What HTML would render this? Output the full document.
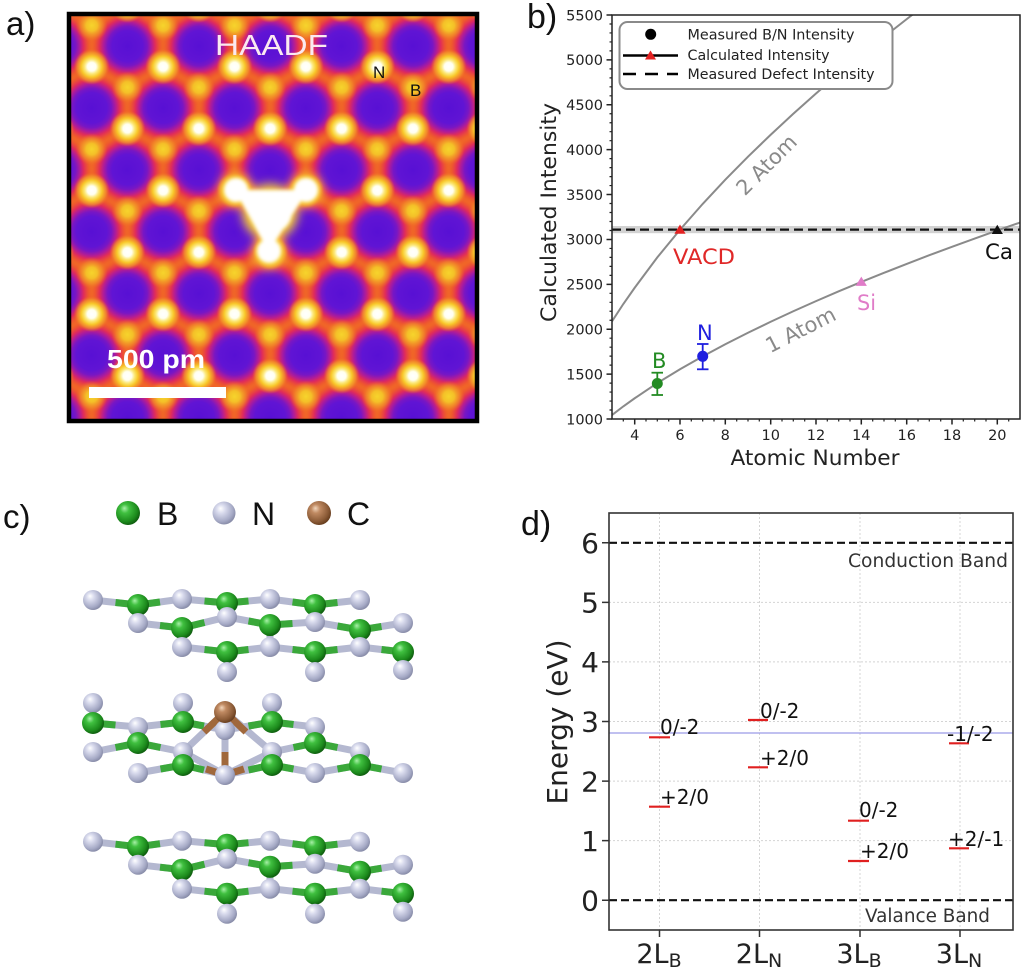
<!DOCTYPE html>
<html><head><meta charset="utf-8"><style>
html,body{margin:0;padding:0;background:#fff;}
svg{display:block;}
.dj{font-family:"DejaVu Sans","Liberation Sans",sans-serif;}
.lb{font-family:"Liberation Sans","DejaVu Sans",sans-serif;}
</style></head><body>
<svg width="1024" height="972" viewBox="0 0 1024 972" xmlns="http://www.w3.org/2000/svg" xmlns:xlink="http://www.w3.org/1999/xlink">
<defs>
<radialGradient id="gh">
 <stop offset="0" stop-color="#5810d4"/>
 <stop offset="0.4" stop-color="#6014d4"/>
 <stop offset="0.52" stop-color="#7816c4"/>
 <stop offset="0.63" stop-color="#b01c98"/>
 <stop offset="0.73" stop-color="#e02c5a"/>
 <stop offset="0.86" stop-color="#ee5230" stop-opacity="0.7"/>
 <stop offset="1" stop-color="#f06a26" stop-opacity="0"/>
</radialGradient>
<radialGradient id="gbd">
 <stop offset="0" stop-color="#f6d42c"/>
 <stop offset="0.35" stop-color="#f4c028"/>
 <stop offset="0.7" stop-color="#f29428" stop-opacity="0.6"/>
 <stop offset="1" stop-color="#f06a26" stop-opacity="0"/>
</radialGradient>
<radialGradient id="gab">
 <stop offset="0" stop-color="#ffffff"/>
 <stop offset="0.24" stop-color="#fffff0"/>
 <stop offset="0.4" stop-color="#fce878"/>
 <stop offset="0.58" stop-color="#f8c82a"/>
 <stop offset="0.8" stop-color="#f39a2a" stop-opacity="0.7"/>
 <stop offset="1" stop-color="#f06a26" stop-opacity="0"/>
</radialGradient>
<g id="H"><circle cx="35.7" cy="61.83" r="38" fill="url(#gh)"/><circle cx="0" cy="0" r="38" fill="url(#gh)"/></g>
<g id="BD"><circle cx="0" cy="41.2" r="16" fill="url(#gbd)"/><circle cx="35.7" cy="103.05" r="16" fill="url(#gbd)"/></g>
<g id="AB"><circle cx="35.7" cy="20.6" r="18" fill="url(#gab)"/><circle cx="0" cy="82.45" r="18" fill="url(#gab)"/></g>
<pattern id="lat" patternUnits="userSpaceOnUse" x="56" y="46.1" width="71.4" height="123.66">
 <rect x="0" y="0" width="71.4" height="123.66" fill="#f06a26"/>
 <use xlink:href="#H" x="-71.4" y="-123.66"/><use xlink:href="#H" x="0" y="-123.66"/><use xlink:href="#H" x="71.4" y="-123.66"/>
 <use xlink:href="#H" x="-71.4" y="0"/><use xlink:href="#H" x="0" y="0"/><use xlink:href="#H" x="71.4" y="0"/>
 <use xlink:href="#H" x="-71.4" y="123.66"/><use xlink:href="#H" x="0" y="123.66"/><use xlink:href="#H" x="71.4" y="123.66"/>
 <use xlink:href="#BD" x="-71.4" y="-123.66"/><use xlink:href="#BD" x="0" y="-123.66"/><use xlink:href="#BD" x="71.4" y="-123.66"/>
 <use xlink:href="#BD" x="-71.4" y="0"/><use xlink:href="#BD" x="0" y="0"/><use xlink:href="#BD" x="71.4" y="0"/>
 <use xlink:href="#BD" x="-71.4" y="123.66"/><use xlink:href="#BD" x="0" y="123.66"/><use xlink:href="#BD" x="71.4" y="123.66"/>
 <use xlink:href="#AB" x="-71.4" y="-123.66"/><use xlink:href="#AB" x="0" y="-123.66"/><use xlink:href="#AB" x="71.4" y="-123.66"/>
 <use xlink:href="#AB" x="-71.4" y="0"/><use xlink:href="#AB" x="0" y="0"/><use xlink:href="#AB" x="71.4" y="0"/>
 <use xlink:href="#AB" x="-71.4" y="123.66"/><use xlink:href="#AB" x="0" y="123.66"/><use xlink:href="#AB" x="71.4" y="123.66"/>
</pattern>
<filter id="bl4" x="-50%" y="-50%" width="200%" height="200%"><feGaussianBlur stdDeviation="5"/></filter>
<filter id="bl1" x="-50%" y="-50%" width="200%" height="200%"><feGaussianBlur stdDeviation="1.8"/></filter>
<clipPath id="ca"><rect x="67" y="12" width="412" height="411"/></clipPath>
<clipPath id="cb"><rect x="612" y="15" width="408" height="404"/></clipPath>
<radialGradient id="gB" cx="0.4" cy="0.38" r="0.62" fx="0.35" fy="0.3">
 <stop offset="0" stop-color="#a8f0a8"/>
 <stop offset="0.3" stop-color="#40c040"/>
 <stop offset="0.8" stop-color="#1c8a1c"/>
 <stop offset="1" stop-color="#106010"/>
</radialGradient>
<radialGradient id="gN" cx="0.4" cy="0.38" r="0.62" fx="0.35" fy="0.3">
 <stop offset="0" stop-color="#ffffff"/>
 <stop offset="0.3" stop-color="#dadcee"/>
 <stop offset="0.8" stop-color="#a6aac6"/>
 <stop offset="1" stop-color="#8a8eaa"/>
</radialGradient>
<radialGradient id="gC" cx="0.4" cy="0.38" r="0.62" fx="0.35" fy="0.3">
 <stop offset="0" stop-color="#f2d6bc"/>
 <stop offset="0.3" stop-color="#c08a62"/>
 <stop offset="0.8" stop-color="#8a5a36"/>
 <stop offset="1" stop-color="#6a4020"/>
</radialGradient>
<g id="L1">
 <path d="M93 600L138 605L182 599L227 603L270 599L315 605L360 600 M138 623L182 628L227 617L270 625L315 622L360 630L403 623 M182 647L227 652L270 647L315 652L360 647L403 652 M138 605V623 M227 603V617 M315 605V622 M182 628V647 M270 625V647 M360 630V647 M227 652V672 M315 652V672 M403 652V670" stroke="#b4b8d0" stroke-width="7" fill="none"/>
 <path d="M115.5 602.5L138 605L160 602 M138 605V614 M204.5 601L227 603L248.5 601 M227 603V610 M292.5 602L315 605L337.5 602.5 M315 605V613.5 M160 625.5L182 628L204.5 622.5 M182 628V637.5 M248.5 621L270 625L292.5 623.5 M270 625V636 M337.5 626L360 630L381.5 626.5 M360 630V638.5 M204.5 649.5L227 652L248.5 649.5 M227 652V662 M292.5 649.5L315 652L337.5 649.5 M315 652V662 M381.5 649.5L403 652 M403 652V661" stroke="#3aa83a" stroke-width="7" fill="none"/>
 <g fill="url(#gN)"><circle cx="93" cy="600" r="10"/><circle cx="182" cy="599" r="10"/><circle cx="270" cy="599" r="10"/><circle cx="360" cy="600" r="10"/></g>
 <g fill="url(#gB)"><circle cx="138" cy="605" r="11"/><circle cx="227" cy="603" r="11"/><circle cx="315" cy="605" r="11"/></g>
 <g fill="url(#gN)"><circle cx="138" cy="623" r="10"/><circle cx="227" cy="617" r="10"/><circle cx="315" cy="622" r="10"/><circle cx="403" cy="623" r="10"/></g>
 <g fill="url(#gB)"><circle cx="182" cy="628" r="11"/><circle cx="270" cy="625" r="11"/><circle cx="360" cy="630" r="11"/></g>
 <g fill="url(#gN)"><circle cx="182" cy="647" r="10"/><circle cx="270" cy="647" r="10"/><circle cx="360" cy="647" r="10"/></g>
 <g fill="url(#gB)"><circle cx="227" cy="652" r="11"/><circle cx="315" cy="652" r="11"/><circle cx="403" cy="652" r="11"/></g>
 <g fill="url(#gN)"><circle cx="227" cy="672" r="10"/><circle cx="315" cy="672" r="10"/><circle cx="403" cy="670" r="10"/></g>
</g>
</defs>

<!-- ===== Panel a ===== -->
<text x="6" y="35" class="lb" font-size="33" fill="#111">a)</text>
<g clip-path="url(#ca)">
 <rect x="67" y="12" width="412" height="411" fill="url(#lat)"/>
 <g filter="url(#bl4)" fill="#f8d030">
  <circle cx="270" cy="212" r="28"/>
  <circle cx="236" cy="190" r="16"/><circle cx="306" cy="190" r="16"/><circle cx="269" cy="252" r="16"/>
 </g>
 <g filter="url(#bl1)" fill="#ffffff" stroke="#ffffff">
  <polygon points="245,196 297,196 269,240" stroke-width="12" stroke-linejoin="round"/>
  <circle cx="271" cy="212" r="21" stroke="none"/>
  <circle cx="236" cy="190" r="12" stroke="none"/><circle cx="306" cy="190" r="12" stroke="none"/><circle cx="269" cy="251" r="12" stroke="none"/>
 </g>
 <text x="215" y="55" class="lb" font-size="29" fill="#fbe9f0" textLength="113" lengthAdjust="spacingAndGlyphs">HAADF</text>
 <text x="373" y="78" class="lb" font-size="17" fill="#111">N</text>
 <text x="410" y="96" class="lb" font-size="17" fill="#111">B</text>
 <text x="107" y="368" class="lb" font-size="26" font-weight="bold" fill="#ffffff" textLength="98" lengthAdjust="spacingAndGlyphs">500 pm</text>
 <rect x="89" y="387" width="137" height="11" fill="#ffffff"/>
</g>
<rect x="69" y="14" width="408" height="407" fill="none" stroke="#000" stroke-width="4.5"/>

<!-- ===== Panel b ===== -->
<text x="527" y="28" class="lb" font-size="34" fill="#111">b)</text>
<g clip-path="url(#cb)">
 <rect x="612" y="226" width="408" height="7.2" fill="#d2d2d2"/>
 <line x1="612" y1="229.6" x2="1020" y2="229.6" stroke="#111" stroke-width="2.2" stroke-dasharray="9 5"/>
 <polyline fill="none" stroke="#8a8a8a" stroke-width="2" points="612,415.05 623.3,406.38 634.7,398.26 657.3,383.09 680,369.26 702.7,356.33 725.3,344.21 748,332.72 770.7,321.77 793.3,311.27 816,301.12 838.7,291.34 861.3,281.91 884,272.84 906.7,263.95 929.3,255.24 952,246.81 974.7,238.55 997.3,230.47 1020,222.57"/>
 <polyline fill="none" stroke="#8a8a8a" stroke-width="2" points="612,321.32 623.3,304.0 634.7,287.75 657.3,257.40 680,229.75 702.7,203.89 725.3,179.65 748,156.67 770.7,134.76 793.3,113.75 816,93.47 838.7,73.89 861.3,55.04 884,36.90 906.7,19.13 929.3,1.7"/>
</g>
<g stroke="#238b23" stroke-width="1.8"><line x1="657.3" y1="372.7" x2="657.3" y2="395"/><line x1="651.5" y1="372.7" x2="663" y2="372.7"/><line x1="651.5" y1="395" x2="663" y2="395"/></g>
<circle cx="657.3" cy="383.5" r="5.5" fill="#238b23"/>
<g stroke="#1f1fdf" stroke-width="1.8"><line x1="702.7" y1="344" x2="702.7" y2="369.3"/><line x1="697" y1="344" x2="708.5" y2="344"/><line x1="697" y1="369.3" x2="708.5" y2="369.3"/></g>
<circle cx="702.7" cy="356.3" r="5.5" fill="#1f1fdf"/>
<polygon points="680,224.5 685.6,233.8 674.4,233.8" fill="#e32222"/>
<polygon points="997.3,224.7 1002.9,234 991.7,234" fill="#111"/>
<polygon points="861.3,276.6 866.9,285.9 855.7,285.9" fill="#e07cc8"/>
<text x="673" y="264" class="dj" font-size="21" fill="#e02828" textLength="62" lengthAdjust="spacingAndGlyphs">VACD</text>
<text x="985" y="259" class="dj" font-size="21" fill="#111" textLength="28" lengthAdjust="spacingAndGlyphs">Ca</text>
<text x="857" y="310" class="dj" font-size="21" fill="#e07cc8" textLength="19" lengthAdjust="spacingAndGlyphs">Si</text>
<text x="697" y="340" class="dj" font-size="21" fill="#1f1fdf">N</text>
<text x="652" y="368" class="dj" font-size="21" fill="#238b23">B</text>
<text transform="translate(766.7,165) rotate(-45)" y="7" text-anchor="middle" class="dj" font-size="21" fill="#8a8a8a">2 Atom</text>
<text transform="translate(800.7,330) rotate(-27)" y="7" text-anchor="middle" class="dj" font-size="21" fill="#8a8a8a">1 Atom</text>
<rect x="619.5" y="22" width="273" height="67" rx="8" fill="#fff" stroke="#8a8a8a" stroke-width="2"/>
<circle cx="650.7" cy="34.3" r="5.5" fill="#000"/>
<line x1="623" y1="55.5" x2="678" y2="55.5" stroke="#000" stroke-width="2.5"/>
<polygon points="650.5,50.5 656,59.5 645,59.5" fill="#e32222"/>
<line x1="623" y1="74" x2="678" y2="74" stroke="#000" stroke-width="2.5" stroke-dasharray="13 9"/>
<g class="dj" font-size="14.5" fill="#222">
 <text x="687.5" y="39.5" textLength="167" lengthAdjust="spacingAndGlyphs">Measured B/N Intensity</text>
 <text x="687.5" y="60" textLength="142" lengthAdjust="spacingAndGlyphs">Calculated Intensity</text>
 <text x="687.5" y="79" textLength="187" lengthAdjust="spacingAndGlyphs">Measured Defect Intensity</text>
</g>
<rect x="612" y="15" width="408" height="404" fill="none" stroke="#222" stroke-width="1.5"/>
<path stroke="#222" stroke-width="1.2" fill="none" d="M609.5 410.02H612M609.5 401.04H612M609.5 392.07H612M609.5 383.09H612M609.5 365.13H612M609.5 356.16H612M609.5 347.18H612M609.5 338.2H612M609.5 320.24H612M609.5 311.27H612M609.5 302.29H612M609.5 293.31H612M609.5 275.36H612M609.5 266.38H612M609.5 257.4H612M609.5 248.42H612M609.5 230.47H612M609.5 221.49H612M609.5 212.51H612M609.5 203.53H612M609.5 185.58H612M609.5 176.6H612M609.5 167.62H612M609.5 158.64H612M609.5 140.69H612M609.5 131.71H612M609.5 122.73H612M609.5 113.76H612M609.5 95.8H612M609.5 86.82H612M609.5 77.84H612M609.5 68.87H612M609.5 50.91H612M609.5 41.93H612M609.5 32.96H612M609.5 23.98H612
M623.3 419V421.5M646 419V421.5M657.3 419V421.5M668.7 419V421.5M691.3 419V421.5M702.7 419V421.5M714 419V421.5M736.7 419V421.5M748 419V421.5M759.3 419V421.5M782 419V421.5M793.3 419V421.5M804.7 419V421.5M827.3 419V421.5M838.7 419V421.5M850 419V421.5M872.7 419V421.5M884 419V421.5M895.3 419V421.5M918 419V421.5M929.3 419V421.5M940.7 419V421.5M963.3 419V421.5M974.7 419V421.5M986 419V421.5M1008.7 419V421.5"/>
<path stroke="#222" stroke-width="1.5" fill="none" d="M606.5 419H612M606.5 374.11H612M606.5 329.22H612M606.5 284.33H612M606.5 239.44H612M606.5 194.56H612M606.5 149.67H612M606.5 104.78H612M606.5 59.89H612M606.5 15H612
M634.7 419V424.5M680 419V424.5M725.3 419V424.5M770.7 419V424.5M816 419V424.5M861.3 419V424.5M906.7 419V424.5M952 419V424.5M997.3 419V424.5"/>
<g class="dj" font-size="14.5" fill="#222" text-anchor="end">
 <text x="603" y="424.3">1000</text><text x="603" y="379.4">1500</text><text x="603" y="334.5">2000</text><text x="603" y="289.6">2500</text><text x="603" y="244.7">3000</text><text x="603" y="199.9">3500</text><text x="603" y="155">4000</text><text x="603" y="110.1">4500</text><text x="603" y="65.2">5000</text><text x="603" y="20.3">5500</text>
</g>
<g class="dj" font-size="14.5" fill="#222" text-anchor="middle">
 <text x="634.7" y="440">4</text><text x="680" y="440">6</text><text x="725.3" y="440">8</text><text x="770.7" y="440">10</text><text x="816" y="440">12</text><text x="861.3" y="440">14</text><text x="906.7" y="440">16</text><text x="952" y="440">18</text><text x="997.3" y="440">20</text>
</g>
<text x="815" y="465" text-anchor="middle" class="dj" font-size="21" fill="#222" textLength="169" lengthAdjust="spacingAndGlyphs">Atomic Number</text>
<text transform="translate(556,212.5) rotate(-90)" text-anchor="middle" class="dj" font-size="21.5" fill="#222" textLength="219" lengthAdjust="spacingAndGlyphs">Calculated Intensity</text>

<!-- ===== Panel c ===== -->
<text x="3" y="528" class="lb" font-size="33" fill="#111">c)</text>
<circle cx="128" cy="513" r="12" fill="url(#gB)"/>
<text x="157" y="525" class="lb" font-size="32" fill="#111">B</text>
<circle cx="224" cy="513" r="11.5" fill="url(#gN)"/>
<text x="252" y="525" class="lb" font-size="32" fill="#111">N</text>
<circle cx="319" cy="513" r="12" fill="url(#gC)"/>
<text x="347" y="525" class="lb" font-size="32" fill="#111">C</text>
<use xlink:href="#L1"/>
<use xlink:href="#L1" y="241.7"/>
<path d="M93 703V723 M183 703V722 M272 703V722 M93 723L138 727L183 722L225 730L272 722L315 727 M138 727V743 M315 727V743 M93 752L138 743L183 752 M272 752L315 743L360 752 M183 752V765 M272 752V765 M360 752V765 M138 773L183 765L225 775L272 765L315 773L360 765L403 773 M225 712L183 752 M225 712L272 752 M225 730V775 M183 752L225 775 M272 752L225 775" stroke="#b4b8d0" stroke-width="7" fill="none"/>
<path d="M93 713V723L115.5 725 M183 712.5V722 M160.5 724.5L183 722L204 726 M272 712.5V722 M248.5 726L272 722L293.5 724.5 M138 735V743 M115.5 747.5L138 743L160.5 747.5 M315 735V743 M293.5 747.5L315 743L337.5 747.5 M183 758.5V765 M160.5 769L183 765L204 770 M272 758.5V765 M248.5 770L272 765L293.5 769 M360 758.5V765 M337.5 769L360 765L381.5 769" stroke="#3aa83a" stroke-width="7" fill="none"/>
<path d="M204 732L225 712L246 732 M225 752V775 M206 769L225 775L244 769" stroke="#a0683c" stroke-width="7" fill="none"/>
<g fill="url(#gN)"><circle cx="93" cy="703" r="10"/><circle cx="183" cy="703" r="10"/><circle cx="272" cy="703" r="10"/></g>
<g fill="url(#gB)"><circle cx="93" cy="723" r="11"/><circle cx="183" cy="722" r="11"/><circle cx="272" cy="722" r="11"/></g>
<g fill="url(#gN)"><circle cx="138" cy="727" r="10"/><circle cx="225" cy="730" r="10"/><circle cx="315" cy="727" r="10"/></g>
<g fill="url(#gB)"><circle cx="138" cy="743" r="11"/><circle cx="315" cy="743" r="11"/></g>
<g fill="url(#gN)"><circle cx="93" cy="752" r="10"/><circle cx="183" cy="752" r="10"/><circle cx="272" cy="752" r="10"/><circle cx="360" cy="752" r="10"/></g>
<g fill="url(#gB)"><circle cx="183" cy="765" r="11"/><circle cx="272" cy="765" r="11"/><circle cx="360" cy="765" r="11"/></g>
<g fill="url(#gN)"><circle cx="138" cy="773" r="10"/><circle cx="225" cy="775" r="10"/><circle cx="315" cy="773" r="10"/><circle cx="403" cy="773" r="10"/></g>
<circle cx="225" cy="712" r="11" fill="url(#gC)"/>

<!-- ===== Panel d ===== -->
<text x="521" y="535" class="lb" font-size="34" fill="#111">d)</text>
<g stroke="#d4d4d4" stroke-width="1" stroke-dasharray="2 2">
 <line x1="609" y1="602.4" x2="1013" y2="602.4"/><line x1="609" y1="661.9" x2="1013" y2="661.9"/><line x1="609" y1="721.5" x2="1013" y2="721.5"/><line x1="609" y1="781.1" x2="1013" y2="781.1"/><line x1="609" y1="840.6" x2="1013" y2="840.6"/>
 <line x1="659.5" y1="513" x2="659.5" y2="930"/><line x1="759.5" y1="513" x2="759.5" y2="930"/><line x1="860" y1="513" x2="860" y2="930"/><line x1="960" y1="513" x2="960" y2="930"/>
</g>
<line x1="609" y1="733" x2="1013" y2="733" stroke="#9a9ae6" stroke-width="1.3"/>
<line x1="609" y1="542.8" x2="1013" y2="542.8" stroke="#111" stroke-width="2.2" stroke-dasharray="8 4"/>
<line x1="609" y1="900.2" x2="1013" y2="900.2" stroke="#111" stroke-width="2.2" stroke-dasharray="8 4"/>
<g stroke="#e02020" stroke-width="2.2">
 <line x1="649" y1="737.3" x2="670" y2="737.3"/><line x1="649" y1="806.7" x2="670" y2="806.7"/>
 <line x1="748" y1="720" x2="768" y2="720"/><line x1="748" y1="767.3" x2="768" y2="767.3"/>
 <line x1="848" y1="820.7" x2="869" y2="820.7"/><line x1="848" y1="861" x2="869" y2="861"/>
 <line x1="949" y1="743.3" x2="969" y2="743.3"/><line x1="949" y1="848.3" x2="969" y2="848.3"/>
</g>
<g class="dj" font-size="20" fill="#111">
 <text x="660" y="734">0/-2</text>
 <text x="660" y="804">+2/0</text>
 <text x="760" y="718">0/-2</text>
 <text x="760" y="765">+2/0</text>
 <text x="859" y="817">0/-2</text>
 <text x="860" y="858">+2/0</text>
 <text x="947" y="741">-1/-2</text>
 <text x="948" y="846">+2/-1</text>
</g>
<text x="1008" y="567" text-anchor="end" class="dj" font-size="18.5" fill="#333" textLength="160" lengthAdjust="spacingAndGlyphs">Conduction Band</text>
<text x="990" y="922" text-anchor="end" class="dj" font-size="18.5" fill="#333" textLength="125" lengthAdjust="spacingAndGlyphs">Valance Band</text>
<rect x="609" y="513" width="404" height="417" fill="none" stroke="#333" stroke-width="1.6"/>
<path stroke="#333" stroke-width="1.5" fill="none" d="M602 542.8H609M602 602.4H609M602 661.9H609M602 721.5H609M602 781.1H609M602 840.6H609M602 900.2H609 M659.5 930V937M759.5 930V937M860 930V937M960 930V937"/>
<g class="dj" font-size="28" fill="#222" text-anchor="end">
 <text x="599" y="553">6</text><text x="599" y="612.6">5</text><text x="599" y="672.1">4</text><text x="599" y="731.7">3</text><text x="599" y="791.3">2</text><text x="599" y="850.8">1</text><text x="599" y="910.4">0</text>
</g>
<g class="dj" font-size="27" fill="#222" text-anchor="middle">
 <text x="659" y="963">2L<tspan font-size="19" dy="4">B</tspan></text>
 <text x="759" y="963">2L<tspan font-size="19" dy="4">N</tspan></text>
 <text x="859" y="963">3L<tspan font-size="19" dy="4">B</tspan></text>
 <text x="959" y="963">3L<tspan font-size="19" dy="4">N</tspan></text>
</g>
<text transform="translate(567,722) rotate(-90)" text-anchor="middle" class="dj" font-size="28" fill="#222" textLength="165" lengthAdjust="spacingAndGlyphs">Energy (eV)</text>
</svg>
</body></html>
